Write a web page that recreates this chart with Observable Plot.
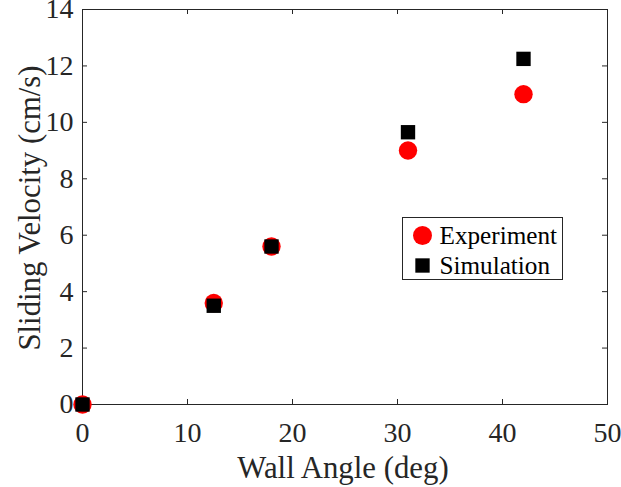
<!DOCTYPE html>
<html>
<head>
<meta charset="utf-8">
<script src="https://cdn.jsdelivr.net/npm/d3@7"></script>
<script src="https://cdn.jsdelivr.net/npm/@observablehq/plot@0.6"></script>
<style>
  body { margin: 0; background: #fff; }
  #chart svg { display: block; }
  #chart svg, #chart svg text { font-family: "Liberation Serif", "Times New Roman", serif !important; }
</style>
</head>
<body>
<div id="chart"></div>
<script>
const angles = [0, 12.5, 18, 31, 42];
const experiment = [0, 3.6, 5.6, 9.0, 11.0];
const simulation = [0, 3.5, 5.6, 9.65, 12.25];
const xTicks = [0, 10, 20, 30, 40, 50];
const yTicks = [0, 2, 4, 6, 8, 10, 12, 14];
const seriesNames = ["Experiment", "Simulation"];
const xLabel = "Wall Angle (deg)";
const yLabel = "Sliding Velocity (cm/s)";

const expData = angles.map((a, i) => ({x: a, y: experiment[i]}));
const simData = angles.map((a, i) => ({x: a, y: simulation[i]}));

const W = 621, H = 487;
const mL = 82, mR = 14, mT = 9, mB = 83;
const pw = W - mL - mR, ph = H - mT - mB;
const axisColor = "#262626";
const font = "'Liberation Serif', 'Times New Roman', serif";

const chart = Plot.plot({
  width: W,
  height: H,
  marginLeft: mL,
  marginRight: mR,
  marginTop: mT,
  marginBottom: mB,
  style: {fontFamily: font, fontSize: "28px", color: axisColor, background: "#fff"},
  x: {domain: [0, 50], ticks: xTicks},
  y: {domain: [0, 14], ticks: yTicks},
  marks: [
    Plot.frame({stroke: axisColor, strokeWidth: 1}),
    // inward ticks
    Plot.ruleX(xTicks, {x: d => d, insetTop: ph - 5, stroke: axisColor}),
    Plot.ruleX(xTicks, {x: d => d, insetBottom: ph - 5, stroke: axisColor}),
    Plot.ruleY(yTicks, {y: d => d, insetRight: pw - 5, stroke: axisColor}),
    Plot.ruleY(yTicks, {y: d => d, insetLeft: pw - 5, stroke: axisColor}),
    Plot.axisX({ticks: xTicks, tickSize: 0, tickPadding: 18, label: null, fontSize: 28, fill: axisColor}),
    Plot.axisY({ticks: yTicks, tickSize: 0, tickPadding: 9, label: null, fontSize: 28, fill: axisColor}),
    Plot.text([xLabel], {frameAnchor: "bottom", dx: -2, dy: 73, text: d => d, fontSize: 30.8, fill: axisColor, textAnchor: "middle", lineAnchor: "bottom"}),
    Plot.text([yLabel], {frameAnchor: "left", dx: -43, dy: 1, rotate: -90, text: d => d, fontSize: 30.8, fill: axisColor, textAnchor: "middle", lineAnchor: "bottom"}),
    // data
    Plot.dot(expData, {x: "x", y: "y", r: 9.2, fill: "#ff0000", stroke: null, symbol: "circle"}),
    Plot.dot(simData, {x: "x", y: "y", r: 8.1, fill: "#000", stroke: null, symbol: "square"}),
    // legend
    Plot.frame({insetLeft: 320, insetTop: 208, insetRight: pw - 480, insetBottom: ph - 270, fill: "#fff", stroke: axisColor, strokeWidth: 1}),
    Plot.dot([seriesNames[0]], {frameAnchor: "top-left", dx: 340, dy: 226, r: 9.5, fill: "#ff0000", symbol: "circle"}),
    Plot.dot([seriesNames[1]], {frameAnchor: "top-left", dx: 340, dy: 256, r: 8.1, fill: "#000", symbol: "square"}),
    Plot.text([seriesNames[0]], {frameAnchor: "top-left", dx: 357, dy: 226, text: d => d, textAnchor: "start", lineAnchor: "middle", fontSize: 25.2, fill: "#000"}),
    Plot.text([seriesNames[1]], {frameAnchor: "top-left", dx: 357, dy: 256, text: d => d, textAnchor: "start", lineAnchor: "middle", fontSize: 25.2, fill: "#000"})
  ]
});
document.getElementById("chart").appendChild(chart);
</script>
</body>
</html>
